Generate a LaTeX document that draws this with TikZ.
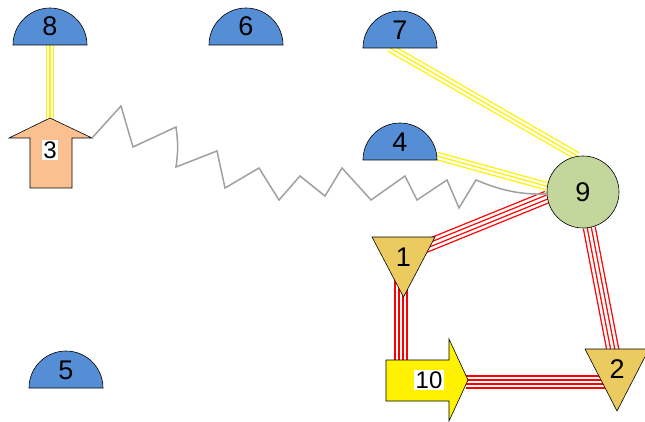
\documentclass[tikz,border=0pt]{standalone}
\usepackage{fontspec}
\setmainfont{Liberation Sans}
\usetikzlibrary{calc,backgrounds}

\definecolor{domeblue}{RGB}{85,142,213}
\definecolor{hubgreen}{RGB}{195,214,155}
\definecolor{valvegold}{RGB}{235,202,96}
\definecolor{peach}{RGB}{250,192,144}
\definecolor{springgray}{RGB}{160,160,160}

\begin{document}
\begin{tikzpicture}[x=1pt,y=-1pt,
	outline/.style={draw=black,line width=0.6pt},
	lbl/.style={font=\fontsize{27}{29}\selectfont,inner sep=1pt},
	tag/.style={font=\fontsize{24}{26}\selectfont,fill=white,inner sep=1.5pt},
	ylink/.style={draw=yellow,line width=1.3pt,double=white,double distance=6pt,
		postaction={draw=yellow,line width=1.3pt,double=none}},
	rlink/.style={draw=red,line width=1.3pt,double=white,double distance=10.6pt,
		postaction={draw=red,line width=1.3pt,double=white,double distance=2.7pt}},
	spring/.style={draw=springgray,line width=1.5pt,line join=miter}]
	\useasboundingbox (0,0) rectangle (645,422);

	% half domes 4 to 8, base midpoints
	\coordinate (b8) at (50,45);
	\coordinate (b6) at (246,45);
	\coordinate (b7) at (400,48);
	\coordinate (b4) at (400,160);
	\coordinate (b5) at (66,388);
	\foreach \d in {b8,b6,b7,b4,b5}
		\draw[outline,fill=domeblue]
		($(\d)+(-37,0)$) arc[start angle=180,end angle=0,radius=37pt] -- cycle;
	\node[lbl] (n8) at (50,26) {8};
	\node[lbl] (n6) at (246,26) {6};
	\node[lbl] (n7) at (400,30) {7};
	\node[lbl] (n4) at (400,142) {4};
	\node[lbl] (n5) at (66,370) {5};

	% hub
	\node[circle,outline,fill=hubgreen,minimum size=72pt,lbl] (n9) at (583,192) {9};

	% valves
	\draw[outline,fill=valvegold]
	(372,237) -- (435,237) -- (403.5,297) -- cycle;
	\node[lbl] (n1) at (403.5,257) {1};
	\draw[outline,fill=valvegold]
	(585,349) -- (649,349) -- (617,411) -- cycle;
	\node[lbl] (n2) at (617,369) {2};

	% block arrows
	\draw[outline,fill=peach]
	(30,188) -- (30,138) -- (9,138) -- (50,118) -- (92,138) -- (72,138) -- (72,188) -- cycle;
	\coordinate (tip3) at (50,118);
	\coordinate (head3) at (92,138);
	\node[tag] (n3) at (50,150) {3};
	\draw[outline,fill=yellow]
	(386,360) -- (449,360) -- (449,339) -- (468,380) -- (449,421) -- (449,401) -- (386,401) -- cycle;
	\coordinate (tip10) at (466,382);
	\node[tag] (n10) at (429,380) {10};

	\begin{scope}[on background layer]
	\draw[ylink] (b8) -- (tip3);
	\draw[ylink] ($(b7)+(-10,0)$) -- (n9.99);
	\draw[ylink] ($(b4)+(37,-4)$) -- (n9.171);
	\draw[rlink] (n9.188) -- (424,247);
	\draw[rlink] (n9.280) -- (614,356);
	\draw[rlink] (401,280) -- (401,362);
	\draw[rlink] (tip10) -- (610,382);
	\end{scope}

	% spring between 3 and 9
	\draw[spring] (head3) -- (121,106) -- (133,147) -- (176,127)
	to[bend left=8] (176,167) -- (217,151) -- (225,188) -- (259,168)
	-- (279,200) -- (300,176) -- (325,196) -- (342,168) -- (371,200)
	-- (405,176) -- (417,200) -- (447,180) -- (459,208) -- (476,180)
	.. controls (500,190) and (520,195) .. (n9.183);
\end{tikzpicture}
\end{document}
